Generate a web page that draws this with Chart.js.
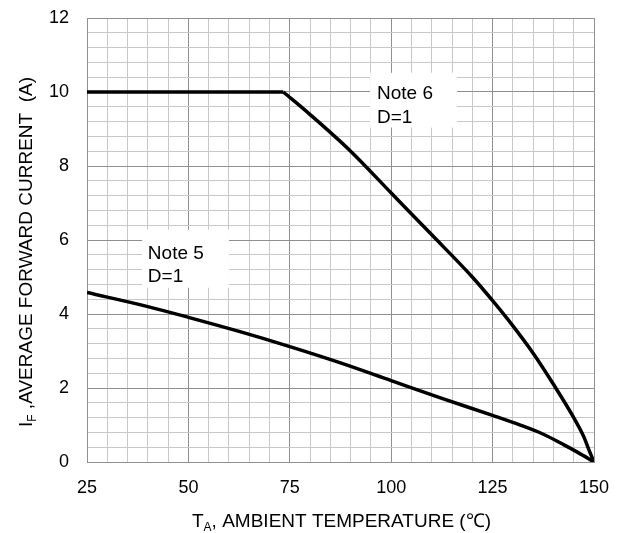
<!DOCTYPE html>
<html><head><meta charset="utf-8">
<script src="https://cdn.jsdelivr.net/npm/chart.js@4"></script>
<style>html,body{margin:0;padding:0;background:#fff}canvas{display:block}</style>
</head><body>
<canvas id="c" width="629" height="533"></canvas>
<script>
// ---- data ----
const flatTemp = [25, 73.4];
const flatCurrent = [10, 10];
const note6Temp = [73.4, 80, 90, 100, 110, 120, 125, 130, 135, 140, 145, 147.5, 148.7, 150];
const note6Current = [10, 9.39, 8.40, 7.27, 6.14, 5.00, 4.36, 3.68, 2.94, 2.10, 1.20, 0.68, 0.34, 0];
const note5Temp = [25, 40, 50, 62.5, 75, 87.5, 100, 112.5, 125, 132, 137.5, 142.5, 146, 150];
const note5Current = [4.58, 4.2, 3.91, 3.53, 3.12, 2.68, 2.2, 1.72, 1.26, 0.99, 0.75, 0.47, 0.26, 0];
const xTickLabels = [25, 50, 75, 100, 125, 150];
const yTickLabels = [0, 2, 4, 6, 8, 10, 12];
const noteTexts = [["Note 6", "D=1"], ["Note 5", "D=1"]];

const FONT = '"Liberation Sans", Arial, sans-serif';
const MINOR = '#c8c8c8';
const MAJOR = '#8f8f8f';

const toPts = (xs, ys) => xs.map((v, i) => ({x: v, y: ys[i]}));
const isLabel = (v, arr) => arr.some(t => Math.abs(t - v) < 1e-6);

const lineStyle = {borderColor: '#000', borderWidth: 3.5, pointRadius: 0, fill: false,
  cubicInterpolationMode: 'monotone', borderCapStyle: 'butt', borderJoinStyle: 'miter'};

const textPlugin = {
  id: 'textPlugin',
  beforeDatasetsDraw(chart) {
    const ctx = chart.ctx;
    const xs = chart.scales.x, ys = chart.scales.y;
    const boxes = [
      {t0: 94.8, t1: 116.2, i0: 10.52, i1: 9.04, tx: 96.5, lines: [9.82, 9.17], text: noteTexts[0]},
      {t0: 38.6, t1: 60.0, i0: 6.28, i1: 4.71, tx: 40.0, lines: [5.49, 4.87], text: noteTexts[1]}
    ];
    ctx.save();
    boxes.forEach(b => {
      const x0 = xs.getPixelForValue(b.t0), x1 = xs.getPixelForValue(b.t1);
      const y0 = ys.getPixelForValue(b.i0), y1 = ys.getPixelForValue(b.i1);
      ctx.fillStyle = '#fff';
      ctx.fillRect(x0, y0, x1 - x0, y1 - y0);
      ctx.fillStyle = '#000';
      ctx.font = '19px ' + FONT;
      ctx.textAlign = 'left';
      ctx.textBaseline = 'alphabetic';
      b.text.forEach((s, k) => ctx.fillText(s, xs.getPixelForValue(b.tx), ys.getPixelForValue(b.lines[k])));
    });
    ctx.restore();
  },
  afterDraw(chart) {
    const ctx = chart.ctx;
    ctx.save();
    ctx.fillStyle = '#000';
    ctx.textBaseline = 'alphabetic';
    ctx.textAlign = 'left';
    function drawComposite(parts, cx, by) {
      let w = 0;
      parts.forEach(p => { ctx.font = p.size + 'px ' + FONT; p.w = ctx.measureText(p.s).width; w += p.w; });
      let x = cx - w / 2;
      parts.forEach(p => { ctx.font = p.size + 'px ' + FONT; ctx.fillText(p.s, x, by + (p.dy || 0)); x += p.w; });
    }
    const cx = (chart.chartArea.left + chart.chartArea.right) / 2 + 1;
    drawComposite([{s: 'T', size: 19}, {s: 'A', size: 12, dy: 4}, {s: ', AMBIENT TEMPERATURE (\u2103)', size: 19}], cx, 527);
    ctx.translate(32, 252);
    ctx.rotate(-Math.PI / 2);
    drawComposite([{s: 'I', size: 19}, {s: 'F', size: 12, dy: 4}, {s: ' ,AVERAGE FORWARD CURRENT  (A)', size: 19}], 0, 0);
    ctx.restore();
  }
};

new Chart(document.getElementById('c'), {
  type: 'line',
  data: {
    datasets: [
      Object.assign({label: 'Note 6 flat', data: toPts(flatTemp, flatCurrent)}, lineStyle),
      Object.assign({label: 'Note 6 D=1', data: toPts(note6Temp, note6Current)}, lineStyle),
      Object.assign({label: 'Note 5 D=1', data: toPts(note5Temp, note5Current)}, lineStyle)
    ]
  },
  options: {
    responsive: false,
    devicePixelRatio: 1,
    animation: false,
    layout: {padding: {top: 18, right: 35, left: 0, bottom: 0}},
    plugins: {legend: {display: false}, tooltip: {enabled: false}, title: {display: false}},
    scales: {
      x: {
        type: 'linear', min: 25, max: 150,
        afterFit(s) { s.height = 71; s.paddingLeft = 0; s.paddingRight = 0; },
        ticks: {stepSize: 5, autoSkip: false, maxRotation: 0, padding: 15, color: '#000',
          font: {family: FONT, size: 18},
          callback: v => isLabel(v, xTickLabels) ? String(v) : ''},
        grid: {drawTicks: false, lineWidth: 1,
          color: c => (c.tick && isLabel(c.tick.value, xTickLabels)) ? MAJOR : MINOR},
        border: {color: MAJOR, width: 1}
      },
      y: {
        type: 'linear', min: 0, max: 12,
        afterFit(s) { s.width = 87; s.paddingTop = 0; s.paddingBottom = 0; },
        ticks: {stepSize: 0.4, autoSkip: false, padding: 18, color: '#000',
          font: {family: FONT, size: 18},
          callback: v => isLabel(v, yTickLabels) ? String(Math.round(v)) : ''},
        grid: {drawTicks: false, lineWidth: 1,
          color: c => (c.tick && isLabel(c.tick.value, yTickLabels)) ? MAJOR : MINOR},
        border: {color: MAJOR, width: 1}
      }
    }
  },
  plugins: [textPlugin]
});
</script>
</body></html>
